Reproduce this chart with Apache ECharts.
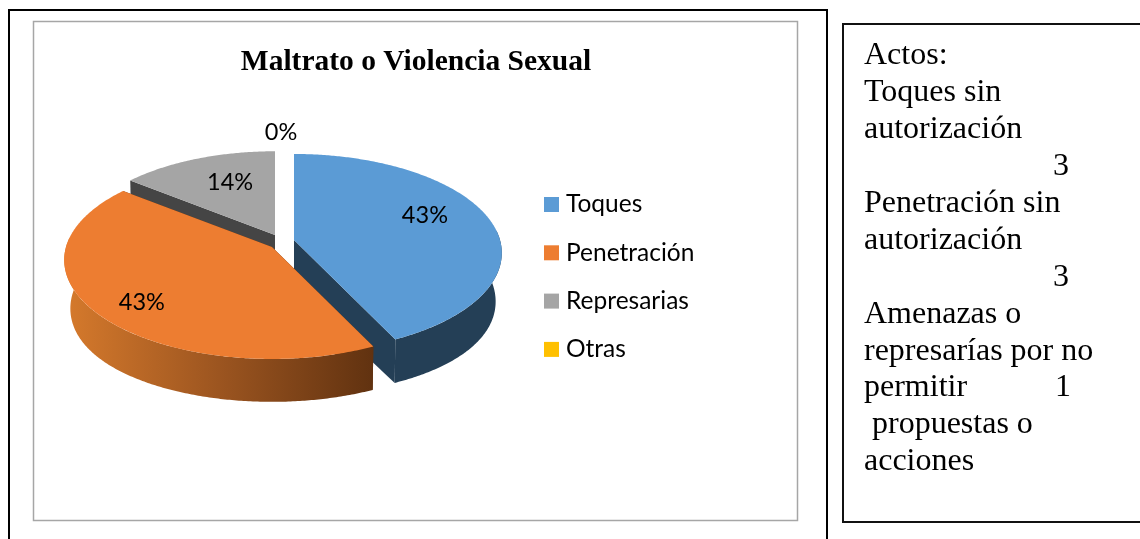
<!DOCTYPE html>
<html>
<head>
<meta charset="utf-8">
<style>html,body{margin:0;padding:0;background:#fff}#c{width:1140px;height:539px}</style>
<script src="https://cdn.jsdelivr.net/npm/echarts@6/dist/echarts.min.js"></script>
</head>
<body>
<div id="c"></div>
<script>
// ---- data ----
const categories = ['Toques', 'Penetración', 'Represarias', 'Otras'];
const values = [3, 3, 1, 0];
const chartTitle = 'Maltrato o Violencia Sexual';
const noteLines = ['Actos:', 'Toques sin', 'autorización', '3', 'Penetración sin', 'autorización', '3',
  'Amenazas o', 'represarías por no', 'permitir', ' propuestas o', 'acciones'];
const noteValueOnPermitir = '1';

// ---- styles & projection ----
const colors = ['#5b9bd5', '#ed7d31', '#a5a5a5', '#ffc000'];
const sideColors = ['#243f56', '#5f3210', '#454545', '#806000'];
const pivots = [[294, 240], [272, 247], [275, 235], [275, 247]]; // exploded slice pivots
const sliceScale = [1, 1, 0.97, 1];
const drawOrder = [2, 0, 1, 3]; // back to front
const labelRadius = [0.68, 0.78, 0.56, 1.38];
const labelNudge = [[-3, -10], [4, 5], [2, -7], [6, -1]];
const RX = 206, RY = 97.3, PERSP = 0.131, DEPTH = 48, BOTTOM_SCALE = 0.96, SIDE_PINCH = 0.03;
const total = values.reduce((a, b) => a + b, 0);

function project(pivot, theta, r) {
  const v = -Math.cos(theta) * r;
  const w = 1 - PERSP * v;
  return [pivot[0] + RX * Math.sin(theta) * r / w, pivot[1] + RY * v / w];
}
// lower rim: same depth scaling in y, x narrows only towards the sides
function projectLow(pivot, theta, s) {
  const v = -Math.cos(theta) * s * BOTTOM_SCALE;
  const w = 1 - PERSP * v;
  const sn = Math.sin(theta);
  return [pivot[0] + RX * sn * s * (1 - SIDE_PINCH * sn * sn * sn * sn) / w, pivot[1] + DEPTH + RY * v / w];
}
function sweep(a0, a1) {
  const n = Math.max(2, Math.ceil((a1 - a0) / 0.01)), out = [];
  for (let i = 0; i <= n; i++) out.push(a0 + (a1 - a0) * i / n);
  return out;
}

function sideFill(i) {
  if (i === 1) {
    return new echarts.graphic.LinearGradient(0, 0, 1, 0, [
      { offset: 0, color: '#d67a2c' }, { offset: 0.5, color: '#9c5520' }, { offset: 1, color: '#613210' }
    ]);
  }
  return sideColors[i];
}

function renderSlice(i) {
  return function () {
    let start = 0;
    for (let k = 0; k < i; k++) start += values[k];
    const a0 = start / total * 2 * Math.PI;
    const a1 = (start + values[i]) / total * 2 * Math.PI;
    const mid = (a0 + a1) / 2;
    const pv = pivots[i];
    const s = sliceScale[i];
    const pvLow = [pv[0], pv[1] + DEPTH];
    const children = [];
    if (values[i] > 0) {
      // cut faces
      [a0, a1].forEach(a => {
        children.push({ type: 'polygon',
          shape: { points: [pv, project(pv, a, s), projectLow(pv, a, s), pvLow] },
          style: { fill: i === 1 ? '#613210' : sideColors[i] } });
      });
      // outer wall, only the part facing the viewer
      const vis0 = Math.max(a0, Math.PI / 2 - 0.1), vis1 = Math.min(a1, Math.PI * 1.5 + 0.1);
      if (vis1 > vis0) {
        const th = sweep(vis0, vis1);
        children.push({ type: 'polygon',
          shape: { points: th.map(t => project(pv, t, s)).concat(th.map(t => projectLow(pv, t, s)).reverse()) },
          style: { fill: sideFill(i) } });
      }
      // top face
      children.push({ type: 'polygon',
        shape: { points: [pv].concat(sweep(a0, a1).map(t => project(pv, t, s))) },
        style: { fill: colors[i] } });
    }
    // percentage label
    const lp = project(pivots[i], mid, labelRadius[i]);
    children.push({ type: 'text',
      x: lp[0] + labelNudge[i][0], y: lp[1] + labelNudge[i][1],
      style: { text: Math.round(values[i] / total * 100) + '%', fill: '#000',
        font: '23.5px Lato', align: 'center', verticalAlign: 'middle' } });
    return { type: 'group', children };
  };
}

const noteX = [864, 864, 864, 1053, 864, 864, 1053, 864, 864, 864, 864, 864];
const noteY0 = 55.5, noteStep = 36.95;
const graphicEls = [
  { type: 'rect', silent: true, z: -1, shape: { x: 9, y: 10, width: 818, height: 540 }, style: { fill: '#fff', stroke: '#000', lineWidth: 2 } },
  { type: 'rect', silent: true, z: -1, shape: { x: 33.5, y: 21.5, width: 764, height: 499 }, style: { fill: '#fff', stroke: '#a6a6a6', lineWidth: 1.5 } },
  { type: 'rect', silent: true, z: -1, shape: { x: 843, y: 24, width: 320, height: 498 }, style: { fill: '#fff', stroke: '#111', lineWidth: 2 } }
];
noteLines.forEach((t, i) => {
  graphicEls.push({ type: 'text', x: noteX[i], y: noteY0 + noteStep * i,
    style: { text: t, font: '32px "Liberation Serif"', fill: '#000', verticalAlign: 'middle' } });
});
graphicEls.push({ type: 'text', x: 1055, y: noteY0 + noteStep * 9,
  style: { text: noteValueOnPermitir, font: '32px "Liberation Serif"', fill: '#000', verticalAlign: 'middle' } });

const chart = echarts.init(document.getElementById('c'), null, { renderer: 'canvas' });
chart.setOption({
  animation: false,
  backgroundColor: '#fff',
  title: { text: chartTitle, left: 416, top: 47, textAlign: 'center', padding: 0,
    textStyle: { fontFamily: 'Liberation Serif', fontWeight: 'bold', fontSize: 29.5, color: '#000' } },
  legend: { orient: 'vertical', left: 544, top: 192, padding: 0, itemWidth: 15, itemHeight: 15, itemGap: 23.3,
    selectedMode: false, icon: 'rect', data: categories,
    textStyle: { fontFamily: 'Lato', fontSize: 24.5, color: '#000', padding: [0, 0, 0, 2] } },
  graphic: graphicEls,
  series: categories.map((name, i) => ({
    type: 'custom', name, coordinateSystem: 'none', silent: true,
    z: 2 + drawOrder.indexOf(i),
    itemStyle: { color: colors[i] },
    data: [values[i]],
    renderItem: renderSlice(i)
  }))
});
</script>
</body>
</html>
